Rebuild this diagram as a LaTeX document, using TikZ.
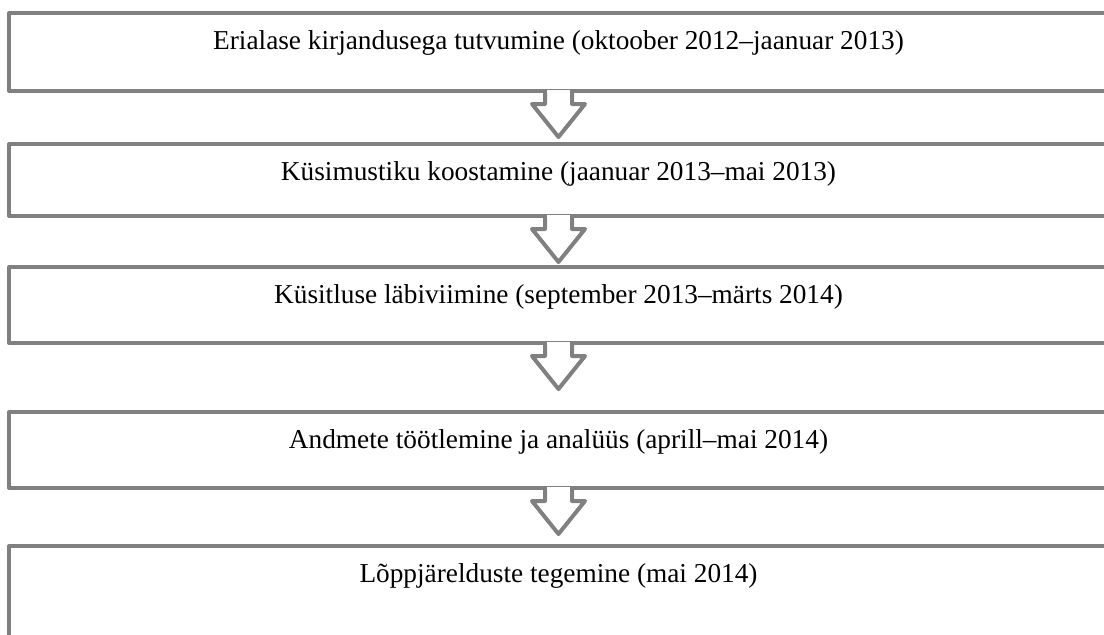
\documentclass[tikz,border=0pt]{standalone}
\usepackage{fontspec}
\setmainfont{Liberation Serif}
\usetikzlibrary{calc}
\definecolor{boxgrey}{HTML}{808080}

\begin{document}
\begin{tikzpicture}[x=0.5pt, y=-0.5pt, font=\fontsize{13.65}{16}\selectfont,
  stage/.style={draw=boxgrey, line width=2pt, line join=round, fill=white,
                minimum width=549.5pt, inner sep=0pt},
  stagetext/.style={anchor=base, inner sep=0pt, text=black},
  flow/.style={draw=boxgrey, line width=2pt, line join=round}]

\clip (0,0) rectangle (1104,634);

% stages
\node[stage, minimum height=39pt] (s1) at (558.5,52) {};
\node[stage, minimum height=36pt] (s2) at (558.5,180) {};
\node[stage, minimum height=38pt] (s3) at (558.5,305) {};
\node[stage, minimum height=38pt] (s4) at (558.5,450) {};
\node[stage, minimum height=52pt] (s5) at (558.5,598) {};

\node[stagetext] (t1) at ($(s1.north)+(0,38)$)
  {Erialase kirjandusega tutvumine (oktoober 2012–jaanuar 2013)};
\node[stagetext] (t2) at ($(s2.north)+(0,38)$)
  {Küsimustiku koostamine (jaanuar 2013–mai 2013)};
\node[stagetext] (t3) at ($(s3.north)+(0,38)$)
  {Küsitluse läbiviimine (september 2013–märts 2014)};
\node[stagetext] (t4) at ($(s4.north)+(0,38)$)
  {Andmete töötlemine ja analüüs (aprill–mai 2014)};
\node[stagetext] (t5) at ($(s5.north)+(0,38)$)
  {Lõppjärelduste tegemine (mai 2014)};

% arrows between stages
\foreach \a in {s1,s2,s3,s4}{
  \fill[white] ($(\a.south)+(-11.5,-3)$) rectangle ($(\a.south)+(11.5,5)$);
  \draw[flow] ($(\a.south)+(-13.5,0)$) -- ++(0,11) -- ++(-13,0)
    -- ++(26.5,33) -- ++(26.5,-33) -- ++(-13,0) -- ++(0,-11);
}

\end{tikzpicture}
\end{document}
